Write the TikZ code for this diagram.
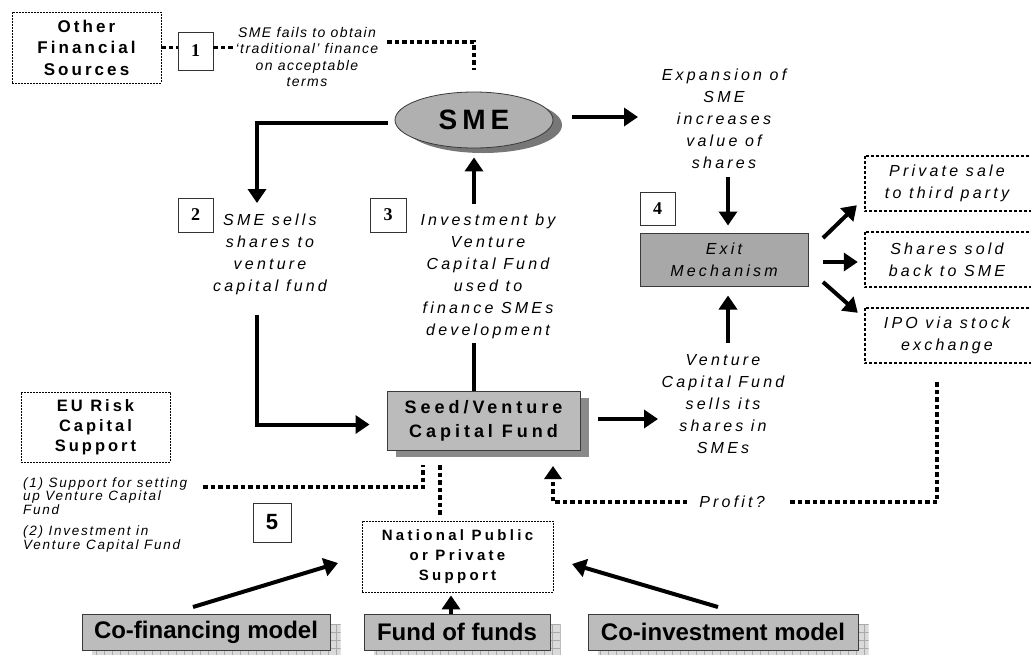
\documentclass[tikz,border=0pt]{standalone}
\usepackage{fontspec}
\setmainfont{Liberation Sans}
\newfontfamily\lsItal[LetterSpace=20]{Liberation Sans}
\newfontfamily\lsSmall[LetterSpace=10]{Liberation Sans}
\newfontfamily\lsNote[LetterSpace=13]{Liberation Sans}
\newfontfamily\lsBold[LetterSpace=18]{Liberation Sans}
\newfontfamily\lsWide[LetterSpace=22]{Liberation Sans}
\newfontfamily\numserif{Liberation Serif}
\usetikzlibrary{arrows.meta,shapes.geometric,shadows,backgrounds,calc}
\definecolor{smefill}{HTML}{B0B0B0}
\definecolor{smeshadow}{HTML}{777777}
\definecolor{seedfill}{HTML}{BBBBBB}
\definecolor{seedshadow}{HTML}{8A8A8A}
\definecolor{exitfill}{HTML}{A8A8A8}
\definecolor{modelfill}{HTML}{BCBCBC}
\definecolor{gridfill}{HTML}{DADADA}
\definecolor{gridline}{HTML}{A9A9A9}
\definecolor{edge}{HTML}{3A3A3A}
\begin{document}
\begin{tikzpicture}[x=1pt,y=-1pt,
  arr/.style={line width=4pt,-{Triangle[length=14pt,width=18pt]}},
  bar/.style={line width=4pt},
  dots/.style={line width=3.5pt,dash pattern=on 4.5pt off 3pt},
  dotarr/.style={dots,-{Triangle[length=13pt,width=17pt]}},
  thinbox/.style={draw,line width=0.8pt,dash pattern=on 2pt off 1pt,fill=white,inner sep=0pt,align=center},
  outcome/.style={inner sep=0pt,align=center,minimum width=164pt,minimum height=55pt,
    font=\lsItal\itshape\fontsize{16}{22}\selectfont},
  outline/.style={line width=2.5pt,dash pattern=on 3pt off 2pt},
  numbox/.style={draw=black!80,line width=0.9pt,fill=white,inner sep=0pt,font=\numserif\bfseries\fontsize{18}{18}\selectfont},
  lbl/.style={align=center,inner sep=0pt,font=\lsItal\itshape\fontsize{16}{22}\selectfont},
  model/.style={draw=edge,line width=1pt,fill=modelfill,inner sep=0pt,minimum height=36pt,
    font=\bfseries\fontsize{24}{24}\selectfont}
]
\useasboundingbox (0,0) rectangle (1031,654);
\begin{scope}[on background layer]
  \fill[white] (0,0) rectangle (1031,654);
\end{scope}
\clip (0,0) rectangle (1031,654);

% ---------- top row ----------
\node[thinbox,minimum width=149pt,minimum height=71pt,font=\lsBold\bfseries\fontsize{17}{21.5}\selectfont] (other) at (86.5,47.5) {Other\\Financial\\Sources};
\node[numbox,minimum width=35pt,minimum height=38pt] (box1) at (195.5,51) {1};
\node[align=center,inner sep=0pt,font=\lsSmall\itshape\fontsize{14}{16.5}\selectfont] (t1) at (307,57)
  {SME fails to obtain\\‘traditional’ finance\\on acceptable\\terms};

\node[ellipse,draw=edge,line width=0.8pt,fill=smefill,minimum width=158pt,minimum height=56pt,inner sep=0pt,
  drop shadow={shadow xshift=9pt,shadow yshift=-5pt,fill=smeshadow,opacity=1},
  font=\lsBold\bfseries\fontsize{28}{30}\selectfont] (sme) at (474,120) {SME};

\node[lbl] (exp) at (724,118.5) {Expansion of\\SME\\increases\\value of\\shares};

% ---------- middle row ----------
\node[numbox,minimum width=35pt,minimum height=34pt] (box2) at (195.5,215) {2};
\node[lbl] (t2) at (270,254.5) {SME sells\\shares to\\venture\\capital fund};
\node[numbox,minimum width=36pt,minimum height=34pt] (box3) at (388,215) {3};
\node[lbl] (t3) at (488,276.5) {Investment by\\Venture\\Capital Fund\\used to\\finance SMEs\\development};
\node[numbox,minimum width=35pt,minimum height=33pt] (box4) at (657.5,208.5) {4};

\node[draw=edge,line width=1pt,fill=exitfill,minimum width=168pt,minimum height=53pt,lbl] (exit) at (724,259.5) {Exit\\Mechanism};

% exit routes; their frames run on past the right edge
\node[outcome] (priv) at (947,183.5) {Private sale\\to third party};
\node[outcome] (back) at (947,259.5) {Shares sold\\back to SME};
\node[outcome] (ipo) at (947,335.5) {IPO via stock\\exchange};
\foreach \n in {priv,back,ipo}
  \draw[outline] (\n.north west) rectangle ([xshift=20pt]\n.south east);

% ---------- fund row ----------
\node[draw=edge,line width=1pt,fill=seedfill,minimum width=193pt,minimum height=59pt,inner sep=0pt,align=center,
  drop shadow={shadow xshift=9pt,shadow yshift=-7pt,fill=seedshadow,opacity=1},
  font=\lsWide\bfseries\fontsize{18}{24}\selectfont] (seed) at (483.5,420.5) {Seed/Venture\\Capital Fund};

\node[lbl] (vent) at (723,404) {Venture\\Capital Fund\\sells its\\shares in\\SMEs};
\node[lbl] (profit) at (732,502) {Profit?};

\node[thinbox,minimum width=149pt,minimum height=70pt,font=\lsBold\bfseries\fontsize{16.5}{20}\selectfont] (eu) at (95.5,427) {EU Risk\\Capital\\Support};
\node[anchor=west,align=left,inner sep=0pt,font=\lsNote\itshape\fontsize{13.5}{11}\selectfont] (note1) at (23,496)
  {(1) Support for setting\\up Venture Capital\\Fund};
\node[anchor=west,align=left,inner sep=0pt,font=\lsNote\itshape\fontsize{13.5}{12}\selectfont] (note2) at (23,539)
  {(2) Investment in\\Venture Capital Fund};
\node[numbox,minimum width=38pt,minimum height=39pt,font=\bfseries\fontsize{22}{22}\selectfont] (box5) at (272,522.5) {5};

\node[thinbox,minimum width=191pt,minimum height=71pt,font=\lsWide\bfseries\fontsize{15}{20}\selectfont] (nat) at (457.5,556.5)
  {National Public\\or Private\\Support};

% ---------- models ----------
\node[model,minimum width=248pt] (cofin) at (206,632) {Co-financing model};
\node[model,minimum width=186pt] (fund) at (457,632) {Fund of funds};
\node[model,minimum width=270pt] (coinv) at (723,632) {Co-investment model};

\begin{scope}[on background layer]
  \foreach \n in {cofin,fund,coinv}{
    \begin{scope}
      \clip ($(\n.north west)+(10,10)$) rectangle ($(\n.south east)+(10,10)$);
      \fill[gridfill] ($(\n.north west)+(10,10)$) rectangle ($(\n.south east)+(10,10)$);
      \draw[gridline,line width=0.5pt,step=8pt] ($(\n.north west)+(10,10)$) grid ($(\n.south east)+(10,10)$);
    \end{scope}
  }
\end{scope}

% ---------- connectors ----------
% other sources -> box 1 -> note
\draw[dots] (other.east) -- (other.east -| box1.west);
\draw[dots] (box1.east |- other.east) -- ($(t1.west |- other.east)+(-2,0)$);
\coordinate (d1) at (387,42);
\coordinate (d1e) at (474,70);
\draw[dots] (d1) -| (d1e);

% SME -> shares sold to the fund
\coordinate (c2t) at (257,203);
\draw[arr] ([xshift=-7pt,yshift=-3pt]sme.west) -| (c2t);
\coordinate (c2b) at (257,315);
\draw[arr] (c2b) |- ([xshift=-17pt,yshift=-4pt]seed.west);

% fund -> investment -> SME
\coordinate (c3b) at (474,343);
\coordinate (c3t) at (474,204);
\draw[bar] (seed.north -| c3b) -- (c3b);
\draw[arr,shorten >=9pt] (c3t) -- (c3t |- sme.south);

% SME -> expansion -> exit
\coordinate (c4) at (638,117);
\draw[arr] ([xshift=19pt]sme.east |- c4) -- (c4);
\coordinate (c5) at (728,177);
\draw[arr,shorten >=7pt] (c5) -- (c5 |- exit.north);
\coordinate (c6) at (728,343);
\draw[arr,shorten >=9pt] (c6) -- (c6 |- exit.south);

% fund -> sells its shares
\coordinate (c7) at (658,419);
\draw[arr] ([xshift=17pt]seed.east |- c7) -- (c7);

% exit -> outcomes
\coordinate (e1) at (823,238);
\coordinate (e2) at (823,262);
\coordinate (e3) at (823,282);
\draw[arr] (e1) -- ([xshift=-8pt,yshift=6pt]priv.south west);
\draw[arr] (e2) -- ([xshift=-7pt]priv.west |- e2);
\draw[arr] (e3) -- ([xshift=-7pt,yshift=-5pt]ipo.north west);

% profit loop back to the fund
\coordinate (p1) at (937,382);
\coordinate (p2) at (790,502);
\draw[dots] (p1) |- (p2);
\coordinate (p3) at (687,502);
\coordinate (p4) at (553,466);
\draw[dotarr] (p3) -| (p4);

% EU support and national support
\coordinate (u1) at (203,487);
\coordinate (u2) at (423,465);
\draw[dots] (u1) -| (u2);
\coordinate (u3) at (440,465);
\draw[dots,shorten >=6pt] (u3) -- (u3 |- nat.north);

% models -> national support
\coordinate (m1) at (193,607);
\coordinate (m1e) at (338,563);
\draw[arr] (m1) -- (m1e);
\draw[arr,shorten >=3pt] (fund.north -| 451,0) -- (nat.south -| 451,0);
\coordinate (m3) at (718,607);
\coordinate (m3e) at (572,564);
\draw[arr] (m3) -- (m3e);
\end{tikzpicture}
\end{document}
